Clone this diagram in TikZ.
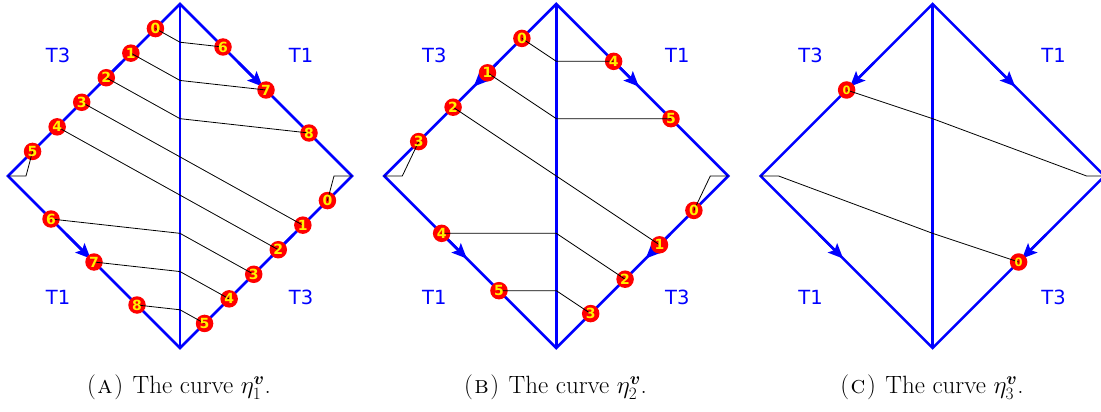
\documentclass[tikz,border=0pt]{standalone}
\usepackage{amsmath}
\usepackage{fontspec}
\newfontfamily\dejavu{DejaVu Sans}
\usetikzlibrary{arrows.meta}
\tikzset{
  blueline/.style={draw=blue, line width=2.6pt, line join=miter},
  bluearrow/.style={draw=blue, line width=2.6pt, -{Stealth[length=15pt,width=13pt,inset=3pt]}},
  curveline/.style={draw=black, line width=0.8pt},
  rdot/.style={circle, fill=red, minimum size=17.5pt, inner sep=0pt},
  num/.style={text=yellow, font=\dejavu\bfseries\fontsize{14}{14}\selectfont, inner sep=0pt},
  numsmall/.style={text=yellow, font=\dejavu\bfseries\fontsize{11.5}{12}\selectfont, inner sep=0pt},
  tlab/.style={text=blue, font=\dejavu\fontsize{19.5}{20}\selectfont},
  captxt/.style={font=\fontsize{25}{30}\selectfont, anchor=base}
}
\newcommand\panelframe[1]{%
  \coordinate (#1T) at (0,-172);
  \coordinate (#1B) at (0,172);
  \coordinate (#1L) at (-172,0);
  \coordinate (#1R) at (172,0);
  \coordinate (#1tL) at (-154,0);
  \coordinate (#1tR) at (154,0);
  \coordinate (#1sUL) at ({-172*0.34},{-172+172*0.34});
  \coordinate (#1hUL) at ({-172*0.48},{-172+172*0.48});
  \coordinate (#1sUR) at ({172*0.34},{-172+172*0.34});
  \coordinate (#1hUR) at ({172*0.48},{-172+172*0.48});
  \coordinate (#1sLL) at ({-172+172*0.34},{172*0.34});
  \coordinate (#1hLL) at ({-172+172*0.48},{172*0.48});
  \coordinate (#1sLR) at ({172-172*0.34},{172*0.34});
  \coordinate (#1hLR) at ({172-172*0.48},{172*0.48});
  \draw[blueline] (#1T) -- (#1R) -- (#1B) -- (#1L) -- cycle;
  \draw[blueline] (#1T) -- (#1B);
  \draw[bluearrow] (#1sUL) -- (#1hUL);
  \draw[bluearrow] (#1sUR) -- (#1hUR);
  \draw[bluearrow] (#1sLL) -- (#1hLL);
  \draw[bluearrow] (#1sLR) -- (#1hLR);
  \node[tlab] (#1labTL) at (-122,-121) {T3};
  \node[tlab] (#1labTR) at (121,-121) {T1};
  \node[tlab] (#1labBL) at (-122,121) {T1};
  \node[tlab] (#1labBR) at (121,121) {T3};
}
\newcommand\subcap[2]{(\kern1.5pt\textsc{#1}\kern1.5pt)\ \kern2pt The curve $\eta_{#2}^{\boldsymbol{v}}$.}
\begin{document}
\begin{tikzpicture}[x=1pt,y=-1pt]
\useasboundingbox (0,0) rectangle (1101,412);
\clip (0,0) rectangle (1101,412);

% ---------- Panel A ----------
\begin{scope}[shift={(180,176)}]
  \panelframe{A}
  \foreach \k in {0,...,5} \node[rdot] (Aul\k) at ({-172*(\k+1)/7},{-172+172*(\k+1)/7}) {};
  \foreach \k in {0,...,5} \node[rdot] (Alr\k) at ({172-172*(\k+1)/7},{172*(\k+1)/7}) {};
  \foreach \k/\t in {6/1,7/2,8/3} \node[rdot] (Aur\k) at ({172*\t/4},{-172+172*\t/4}) {};
  \foreach \k/\t in {6/1,7/2,8/3} \node[rdot] (All\k) at ({-172+172*\t/4},{172*\t/4}) {};
  \foreach \j in {1,...,8} \coordinate (Ac\j) at (0,{-172+344*\j/9});
  \draw[curveline] (Aul0.center) -- (Ac1) -- (Aur6.center);
  \draw[curveline] (Aul1.center) -- (Ac2) -- (Aur7.center);
  \draw[curveline] (Aul2.center) -- (Ac3) -- (Aur8.center);
  \draw[curveline] (Aul3.center) -- (Ac4) -- (Alr1.center);
  \draw[curveline] (Aul4.center) -- (Ac5) -- (Alr2.center);
  \draw[curveline] (Aul5.center) -- (AtL) -- (AL);
  \draw[curveline] (Alr0.center) -- (AtR) -- (AR);
  \draw[curveline] (All6.center) -- (Ac6) -- (Alr3.center);
  \draw[curveline] (All7.center) -- (Ac7) -- (Alr4.center);
  \draw[curveline] (All8.center) -- (Ac8) -- (Alr5.center);
  \foreach \k in {0,...,5} {\node[num] at (Aul\k) {\k}; \node[num] at (Alr\k) {\k};}
  \foreach \k in {6,7,8} {\node[num] at (Aur\k) {\k}; \node[num] at (All\k) {\k};}
\end{scope}

% ---------- Panel B ----------
\begin{scope}[shift={(556.3,176)}]
  \panelframe{B}
  \foreach \k in {0,...,3} \node[rdot] (Bul\k) at ({-172*(\k+1)/5},{-172+172*(\k+1)/5}) {};
  \foreach \k in {0,...,3} \node[rdot] (Blr\k) at ({172-172*(\k+1)/5},{172*(\k+1)/5}) {};
  \foreach \k/\t in {4/1,5/2} \node[rdot] (Bur\k) at ({172*\t/3},{-172+172*\t/3}) {};
  \foreach \k/\t in {4/1,5/2} \node[rdot] (Bll\k) at ({-172+172*\t/3},{172*\t/3}) {};
  \foreach \j in {1,...,5} \coordinate (Bc\j) at (0,{-172+344*\j/6});
  \draw[curveline] (Bul0.center) -- (Bc1) -- (Bur4.center);
  \draw[curveline] (Bul1.center) -- (Bc2) -- (Bur5.center);
  \draw[curveline] (Bul2.center) -- (Bc3) -- (Blr1.center);
  \draw[curveline] (Bul3.center) -- (BtL) -- (BL);
  \draw[curveline] (Blr0.center) -- (BtR) -- (BR);
  \draw[curveline] (Bll4.center) -- (Bc4) -- (Blr2.center);
  \draw[curveline] (Bll5.center) -- (Bc5) -- (Blr3.center);
  \foreach \k in {0,...,3} {\node[num] at (Bul\k) {\k}; \node[num] at (Blr\k) {\k};}
  \foreach \k in {4,5} {\node[num] at (Bur\k) {\k}; \node[num] at (Bll\k) {\k};}
\end{scope}

% ---------- Panel C ----------
\begin{scope}[shift={(932.6,176)}]
  \panelframe{C}
  \node[rdot] (Cul0) at (-86,-86) {};
  \node[rdot] (Clr0) at (86,86) {};
  \coordinate (Cc1) at (0,{-172+344/3});
  \coordinate (Cc2) at (0,{-172+688/3});
  \draw[curveline] (Cul0.center) -- (Cc1) -- (CtR) -- (CR);
  \draw[curveline] (CL) -- (CtL) -- (Cc2) -- (Clr0.center);
  \node[numsmall] at (Cul0) {0};
  \node[numsmall] at (Clr0) {0};
\end{scope}

% ---------- Captions ----------
\node[captxt] (capA) at (179,393.5) {\subcap{a}{1}};
\node[captxt] (capB) at (555.5,393.5) {\subcap{b}{2}};
\node[captxt] (capC) at (932,393.5) {\subcap{c}{3}};
\end{tikzpicture}
\end{document}
